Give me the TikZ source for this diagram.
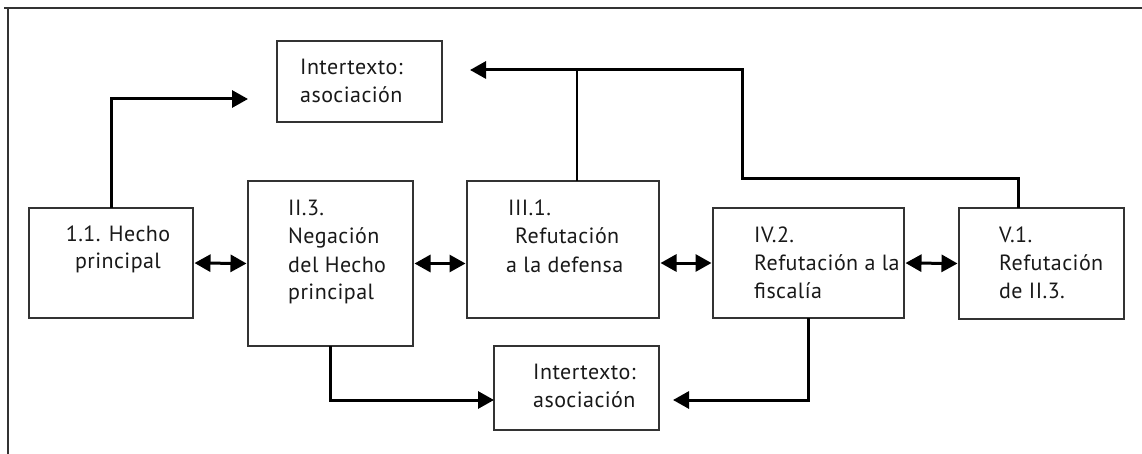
\documentclass[tikz,border=0pt]{standalone}
\usepackage{fontspec}
\setmainfont[LetterSpace=2]{PT Sans}
\usetikzlibrary{arrows.meta,calc}
\newcommand{\Lft}[1]{\vtop{\baselineskip=28pt\lineskiplimit=-100pt\halign{##\hfil\cr#1\crcr}}}
\newcommand{\Ctr}[1]{\vtop{\baselineskip=27pt\lineskiplimit=-100pt\halign{\hfil##\hfil\cr#1\crcr}}}
\begin{document}
\begin{tikzpicture}[x=1pt,y=-1pt,
  box/.style={draw=black!80,line width=2pt,inner sep=0pt,outer sep=0pt},
  txt/.style={inner sep=0pt,text=black!90,font=\fontsize{22pt}{28pt}\selectfont},
  conn/.style={line width=3pt,-{Triangle[length=16pt,width=17pt]}},
  bi/.style={line width=3pt,{Triangle[length=16pt,width=17pt]}-{Triangle[length=16pt,width=17pt]},shorten <=1.5pt,shorten >=1.5pt},
  plain/.style={line width=2.4pt},
  frame/.style={draw=black!80,line width=2pt}]
\useasboundingbox (0,0) rectangle (1142,454);
\fill[white] (0,0) rectangle (1142,454);
\draw[frame] (4,8) -- (1142,8);
\draw[frame] (7.5,8) -- (7.5,454);
% boxes
\node[box,minimum width=165pt,minimum height=81pt] (tbox) at (359.5,81.5) {};
\node[box,minimum width=164pt,minimum height=110pt] (b1) at (111,263) {};
\node[box,minimum width=165pt,minimum height=165pt] (b2) at (330.5,263.5) {};
\node[box,minimum width=192pt,minimum height=137pt] (b3) at (563,249.5) {};
\node[box,minimum width=191pt,minimum height=110pt] (b4) at (808.5,263) {};
\node[box,minimum width=165pt,minimum height=111pt] (b5) at (1041.5,263.5) {};
\node[box,minimum width=165pt,minimum height=84pt] (bot) at (576.5,388) {};
% texts
\node[txt,anchor=base west] (ttop) at (300,75) {\Lft{Intertexto:\cr asociación}};
\node[txt,anchor=base] (t1) at (118,241) {\Ctr{1.1. Hecho\cr principal}};
\node[txt,anchor=base west] (t2) at (288,216) {\Lft{II.3.\cr Negación\cr del Hecho\cr principal}};
\node[txt,anchor=base west] (t3) at (506,216) {\Lft{\kern2pt III.1.\cr\kern9pt Refutación\cr a la defensa}};
\node[txt,anchor=base west] (t4) at (754,243) {\Lft{IV.2.\cr Refutación a la\cr fiscalía}};
\node[txt,anchor=base west] (t5) at (999,243) {\Lft{V.1.\cr Refutación\cr de II.3.}};
\node[txt,anchor=base west] (tbot) at (533,379) {\Lft{Intertexto:\cr asociación}};
% connector end points
\coordinate (a1) at (248,99);
\coordinate (k1) at (742,179);
\coordinate (a2) at (470,70);
\coordinate (j1) at (577,70);
\coordinate (a4) at (673,400);
% connectors
\draw[conn] (b1.north) |- (a1);
\draw[conn] ($(b5.north west)+(59,0)$) |- (k1) |- (a2);
\draw[plain] ($(b3.north west)+(110,0)$) -- (j1);
\draw[conn] (b2.south) |- ($(bot.west)+(0,12)$);
\draw[conn] (b4.south) |- (a4);
\draw[bi] (b1.east) -- (b2.west);
\draw[bi] (b2.east) -- (b2.east -| b3.west);
\draw[bi] (b4.west -| b3.east) -- (b4.west);
\draw[bi] (b4.east) -- (b5.west);
\end{tikzpicture}
\end{document}
